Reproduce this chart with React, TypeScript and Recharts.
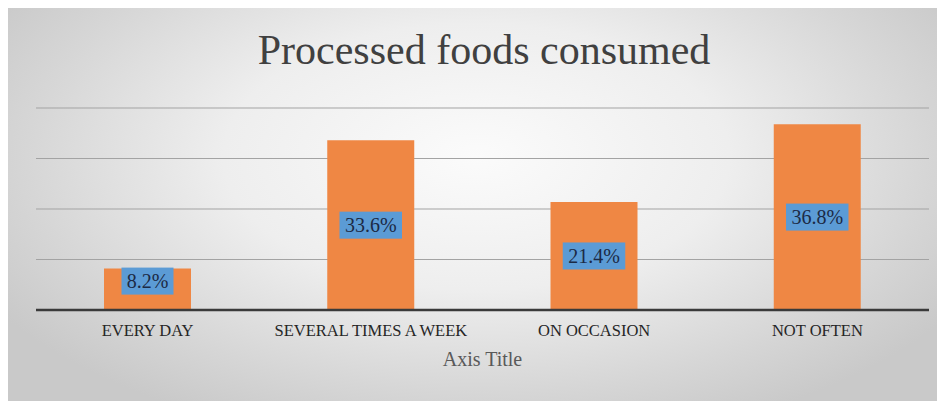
import React from "react";
import { BarChart, Bar, XAxis, YAxis, CartesianGrid, LabelList } from "recharts";

const categories = ["EVERY DAY", "SEVERAL TIMES A WEEK", "ON OCCASION", "NOT OFTEN"];
const shares = [8.2, 33.6, 21.4, 36.8];
const yTicks = [0, 10, 20, 30, 40];
const chartTitle = "Processed foods consumed";
const axisTitle = "Axis Title";

const data = categories.map((c, i) => ({ name: c, value: shares[i] }));

const SERIF = "'Liberation Serif', 'Times New Roman', serif";

const Tick = (props: any) => {
  const { x, y, payload } = props;
  return (
    <text x={x} y={y + 26} textAnchor="middle" fontFamily={SERIF} fontSize={16.5} fill="#262626">
      {payload.value}
    </text>
  );
};

const BoxLabel = (props: any) => {
  const { x, y, width, height, value } = props;
  const text = `${Number(value).toFixed(1)}%`;
  const bw = text.length * 10.5 + 10;
  const bh = 27;
  const cx = x + width / 2;
  let cy = y + height / 2;
  if (height < 60) cy = y + bh / 2 - 1;
  return (
    <g>
      <rect x={cx - bw / 2} y={cy - bh / 2} width={bw} height={bh} fill="#5b9bd5" />
      <text x={cx} y={cy + 7} textAnchor="middle" fontFamily={SERIF} fontSize={20} fill="#1b2a45">
        {text}
      </text>
    </g>
  );
};

export default function App() {
  return (
    <div
      style={{
        width: 937,
        height: 394,
        marginTop: -1,
        position: "relative",
        background:
          "radial-gradient(ellipse 60% 75% at 50% 38%, #fbfbfb 0%, #eeeeee 45%, #d6d6d6 80%, #c9c9c9 100%)",
      }}
    >
      <BarChart
        width={937}
        height={394}
        data={data}
        margin={{ top: 101, right: 16, bottom: 31, left: 28 }}
        barSize={87}
      >
        <CartesianGrid vertical={false} stroke="#a3a3a3" strokeWidth={1} />
        <YAxis hide domain={[0, 40]} ticks={yTicks} />
        <XAxis
          dataKey="name"
          height={60}
          tickLine={false}
          tickSize={0}
          tickMargin={0}
          axisLine={{ stroke: "#3a3a3a", strokeWidth: 2.5 }}
          tick={<Tick />}
          interval={0}
          label={{
            value: axisTitle,
            position: "insideBottom",
            offset: 4,
            fontFamily: SERIF,
            fontSize: 20,
            fill: "#595959",
          }}
        />
        <Bar dataKey="value" fill="#ef8744" isAnimationActive={false}>
          <LabelList dataKey="value" content={<BoxLabel />} />
        </Bar>
        <text
          x={476}
          y={57}
          textAnchor="middle"
          fontFamily={SERIF}
          fontSize={42}
          fill="#404040"
        >
          {chartTitle}
        </text>
      </BarChart>
    </div>
  );
}
